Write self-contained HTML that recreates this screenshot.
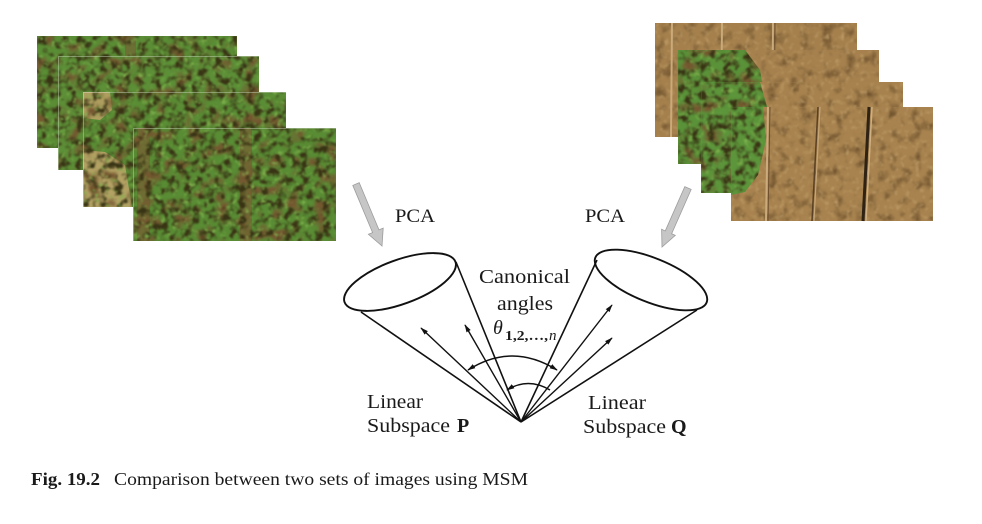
<!DOCTYPE html>
<html>
<head>
<meta charset="utf-8">
<style>
  html, body { margin: 0; padding: 0; background: #fff; }
  svg { display: block; }
  text { font-family: "Liberation Serif", "DejaVu Serif", serif; fill: #1a1a1a; }
</style>
</head>
<body>
<svg width="982" height="524" viewBox="0 0 982 524" xmlns="http://www.w3.org/2000/svg">
  <defs>
    <filter id="dk" x="0" y="0" width="1" height="1" color-interpolation-filters="sRGB">
      <feTurbulence type="fractalNoise" baseFrequency="0.13" numOctaves="2" seed="2"/>
      <feColorMatrix type="matrix" values="0 0 0 0 0.22  0 0 0 0 0.2  0 0 0 0 0.08  -4 0 0 0 2.15"/>
      <feGaussianBlur stdDeviation="0.7"/>
    </filter>
    <filter id="lt" x="0" y="0" width="1" height="1" color-interpolation-filters="sRGB">
      <feTurbulence type="fractalNoise" baseFrequency="0.18" numOctaves="2" seed="7"/>
      <feColorMatrix type="matrix" values="0 0 0 0 0.5  0 0 0 0 0.7  0 0 0 0 0.3  3.5 0 0 0 -2.0"/>
      <feGaussianBlur stdDeviation="0.7"/>
    </filter>
    <filter id="br" x="0" y="0" width="1" height="1" color-interpolation-filters="sRGB">
      <feTurbulence type="fractalNoise" baseFrequency="0.07" numOctaves="2" seed="11"/>
      <feColorMatrix type="matrix" values="0 0 0 0 0.46  0 0 0 0 0.34  0 0 0 0 0.19  -4 0 0 0 2.0"/>
      <feGaussianBlur stdDeviation="1"/>
    </filter>
    <filter id="tg" x="0" y="0" width="1" height="1" color-interpolation-filters="sRGB">
      <feTurbulence type="fractalNoise" baseFrequency="0.09" numOctaves="3" seed="4"/>
      <feColorMatrix type="matrix" values="0 0 0 0 0.42  0 0 0 0 0.31  0 0 0 0 0.17  -2.5 0 0 0 1.25"/>
      <feGaussianBlur stdDeviation="0.8"/>
    </filter>
    <filter id="tl" x="0" y="0" width="1" height="1" color-interpolation-filters="sRGB">
      <feTurbulence type="fractalNoise" baseFrequency="0.2" numOctaves="2" seed="9"/>
      <feColorMatrix type="matrix" values="0 0 0 0 0.76  0 0 0 0 0.63  0 0 0 0 0.42  2.5 0 0 0 -1.35"/>
      <feGaussianBlur stdDeviation="0.7"/>
    </filter>

    <clipPath id="g2"><polygon points="678,50 745,50 760,70 765,100 758,130 765,164 678,164"/></clipPath>
    <clipPath id="g3"><polygon points="701,82 760,82 768,110 762,150 768,193 701,193"/></clipPath>
    <clipPath id="g4"><polygon points="731,107 763,107 766,140 758,175 745,192 731,195"/></clipPath>

    <marker id="ah" viewBox="0 0 10 10" refX="9" refY="5" markerWidth="8" markerHeight="8" orient="auto" markerUnits="userSpaceOnUse">
      <path d="M0,2 L10,5 L0,8 z" fill="#111"/>
    </marker>
    <marker id="ahs" viewBox="0 0 10 10" refX="9" refY="5" markerWidth="8" markerHeight="8" orient="auto-start-reverse" markerUnits="userSpaceOnUse">
      <path d="M0,2 L10,5 L0,8 z" fill="#111"/>
    </marker>
  </defs>

  <rect width="982" height="524" fill="#ffffff"/>

  <!-- ===== Left image stack (green crop) ===== -->
  <!-- R1 -->
  <rect x="37" y="36" width="200" height="112" fill="#5a8d35"/>
  <rect x="125" y="36" width="11" height="112" fill="#7b5a34" opacity="0.55"/>
  <rect x="37" y="36" width="200" height="112" filter="url(#br)"/>
  <rect x="37" y="36" width="200" height="112" filter="url(#dk)"/>
  <rect x="37" y="36" width="200" height="112" filter="url(#lt)"/>
  <!-- R2 -->
  <rect x="58" y="56" width="201" height="114" fill="#5c8f37"/>
  <rect x="58" y="56" width="201" height="114" filter="url(#br)"/>
  <rect x="58" y="56" width="201" height="114" filter="url(#dk)"/>
  <rect x="58" y="56" width="201" height="114" filter="url(#lt)"/>
  <path d="M58.5,170 L58.5,56.5 L259,56.5" fill="none" stroke="#ffffff" stroke-opacity="0.3" stroke-width="1"/>
  <!-- R3 -->
  <rect x="83" y="92" width="203" height="115" fill="#5a8d35"/>
  <path d="M83,92 L110,92 L112,110 L100,120 L83,118 Z" fill="#c4a46c" opacity="0.8"/>
  <path d="M83,150 L105,152 L125,165 L132,207 L83,207 Z" fill="#c9a870" opacity="0.8"/>
  <rect x="83" y="92" width="203" height="115" filter="url(#br)"/>
  <rect x="83" y="92" width="203" height="115" filter="url(#dk)"/>
  <rect x="83" y="92" width="203" height="115" filter="url(#lt)"/>
  <path d="M83.5,207 L83.5,92.5 L286,92.5" fill="none" stroke="#ffffff" stroke-opacity="0.3" stroke-width="1"/>
  <!-- R4 -->
  <rect x="133" y="128" width="203" height="113" fill="#598c34"/>
  <rect x="137" y="128" width="13" height="113" fill="#7b5a34" opacity="0.65"/>
  <rect x="240" y="128" width="12" height="113" fill="#7b5a34" opacity="0.65"/>
  <rect x="133" y="128" width="203" height="113" filter="url(#br)"/>
  <rect x="133" y="128" width="203" height="113" filter="url(#dk)"/>
  <rect x="133" y="128" width="203" height="113" filter="url(#lt)"/>
  <path d="M133.5,241 L133.5,128.5 L336,128.5" fill="none" stroke="#ffffff" stroke-opacity="0.3" stroke-width="1"/>

  <!-- ===== Right image stack (tan field) ===== -->
  <!-- S1 -->
  <rect x="655" y="23" width="202" height="114" fill="#a5804d"/>
  <rect x="655" y="23" width="202" height="114" filter="url(#tg)"/>
  <rect x="655" y="23" width="202" height="114" filter="url(#tl)"/>
  <line x1="672" y1="23" x2="671" y2="137" stroke="#c9aa7a" stroke-width="2"/>
  <line x1="722" y1="23" x2="721" y2="137" stroke="#c9aa7a" stroke-width="2"/>
  <line x1="773" y1="23" x2="772" y2="137" stroke="#c9aa7a" stroke-width="2"/>
  <line x1="775" y1="23" x2="774" y2="137" stroke="#6e5030" stroke-width="1"/>
  <!-- S2 -->
  <rect x="678" y="50" width="201" height="114" fill="#a6814e"/>
  <rect x="678" y="50" width="201" height="114" filter="url(#tg)"/>
  <rect x="678" y="50" width="201" height="114" filter="url(#tl)"/>
  <g clip-path="url(#g2)">
    <rect x="678" y="50" width="90" height="114" fill="#5a9239"/>
    <rect x="678" y="50" width="90" height="114" filter="url(#br)"/>
    <rect x="678" y="50" width="90" height="114" filter="url(#dk)"/>
    <rect x="678" y="50" width="90" height="114" filter="url(#lt)"/>
  </g>
  <!-- S3 -->
  <rect x="701" y="82" width="202" height="111" fill="#a7824e"/>
  <rect x="701" y="82" width="202" height="111" filter="url(#tg)"/>
  <rect x="701" y="82" width="202" height="111" filter="url(#tl)"/>
  <g clip-path="url(#g3)">
    <rect x="701" y="82" width="70" height="111" fill="#5c953b"/>
    <rect x="701" y="82" width="70" height="111" filter="url(#br)"/>
    <rect x="701" y="82" width="70" height="111" filter="url(#dk)"/>
    <rect x="701" y="82" width="70" height="111" filter="url(#lt)"/>
  </g>
  <!-- S4 -->
  <rect x="731" y="107" width="202" height="114" fill="#a8834f"/>
  <rect x="731" y="107" width="202" height="114" filter="url(#tg)"/>
  <rect x="731" y="107" width="202" height="114" filter="url(#tl)"/>
  <g clip-path="url(#g4)">
    <rect x="731" y="107" width="40" height="90" fill="#5c953b"/>
    <rect x="731" y="107" width="40" height="90" filter="url(#dk)"/>
    <rect x="731" y="107" width="40" height="90" filter="url(#lt)"/>
  </g>
  <line x1="768" y1="107" x2="766" y2="221" stroke="#cbab7c" stroke-width="2"/>
  <line x1="770" y1="107" x2="768" y2="221" stroke="#6e5030" stroke-width="1"/>
  <line x1="818" y1="107" x2="812" y2="221" stroke="#5a4025" stroke-width="1.5"/>
  <line x1="820" y1="107" x2="814" y2="221" stroke="#c6a676" stroke-width="1.2"/>
  <line x1="869" y1="107" x2="863" y2="221" stroke="#2e2215" stroke-width="3"/>
  <line x1="872" y1="107" x2="866" y2="221" stroke="#d0b080" stroke-width="1.5"/>

  <!-- ===== Gray PCA arrows ===== -->
  <polygon points="359.2,182.6 379.0,229.9 383.2,228.1 382,246 368.4,234.3 372.6,232.6 352.8,185.4" fill="#c6c6c6" stroke="#9c9c9c" stroke-width="0.8"/>
  <polygon points="691.2,189.4 671.65,233.77 675.3,235.4 662,247 661.6,229.3 665.25,230.95 684.8,186.6" fill="#c6c6c6" stroke="#9c9c9c" stroke-width="0.8"/>

  <text x="395" y="222" font-size="19" textLength="40" lengthAdjust="spacingAndGlyphs">PCA</text>
  <text x="585" y="222" font-size="19" textLength="40" lengthAdjust="spacingAndGlyphs">PCA</text>

  <!-- ===== Cones ===== -->
  <g fill="none" stroke="#111" stroke-width="1.6">
    <ellipse cx="400" cy="282" rx="59" ry="22" transform="rotate(-20 400 282)" stroke-width="1.9"/>
    <ellipse cx="651" cy="280" rx="60" ry="22" transform="rotate(22 651 280)" stroke-width="1.9"/>
    <line x1="521" y1="422" x2="361" y2="312"/>
    <line x1="521" y1="422" x2="456" y2="262"/>
    <line x1="521" y1="422" x2="597" y2="260"/>
    <line x1="521" y1="422" x2="697" y2="310"/>
    <line x1="521" y1="422" x2="421" y2="328" marker-end="url(#ah)" stroke-width="1.4"/>
    <line x1="521" y1="422" x2="465" y2="325" marker-end="url(#ah)" stroke-width="1.4"/>
    <line x1="521" y1="422" x2="612" y2="305" marker-end="url(#ah)" stroke-width="1.4"/>
    <line x1="521" y1="422" x2="612" y2="338" marker-end="url(#ah)" stroke-width="1.4"/>
    <path d="M468,370 Q512,342 557,370" marker-start="url(#ahs)" marker-end="url(#ahs)" stroke-width="1.5"/>
    <path d="M507,390 Q528,377 550,390" marker-start="url(#ahs)" stroke-width="1.5"/>
  </g>

  <!-- ===== Labels ===== -->
  <text x="479" y="283" font-size="20" textLength="91" lengthAdjust="spacingAndGlyphs">Canonical</text>
  <text x="497" y="310" font-size="20" textLength="56" lengthAdjust="spacingAndGlyphs">angles</text>
  <text x="493" y="334" font-size="20" font-style="italic">θ</text>
  <text x="505" y="340" font-size="14" font-weight="bold" textLength="43" lengthAdjust="spacingAndGlyphs">1,2,…,</text>
  <text x="549" y="340" font-size="15" font-style="italic">n</text>

  <text x="367" y="408" font-size="20" textLength="56" lengthAdjust="spacingAndGlyphs">Linear</text>
  <text x="367" y="432" font-size="20" textLength="83" lengthAdjust="spacingAndGlyphs">Subspace</text>
  <text x="457" y="432" font-size="20" font-weight="bold">P</text>

  <text x="588" y="409" font-size="20" textLength="58" lengthAdjust="spacingAndGlyphs">Linear</text>
  <text x="583" y="433" font-size="20" textLength="83" lengthAdjust="spacingAndGlyphs">Subspace</text>
  <text x="671" y="433" font-size="20" font-weight="bold">Q</text>

  <!-- ===== Caption ===== -->
  <text x="31" y="485" font-size="18" font-weight="bold" textLength="69" lengthAdjust="spacingAndGlyphs">Fig. 19.2</text>
  <text x="114" y="485" font-size="18" textLength="414" lengthAdjust="spacingAndGlyphs">Comparison between two sets of images using MSM</text>
</svg>
</body>
</html>
